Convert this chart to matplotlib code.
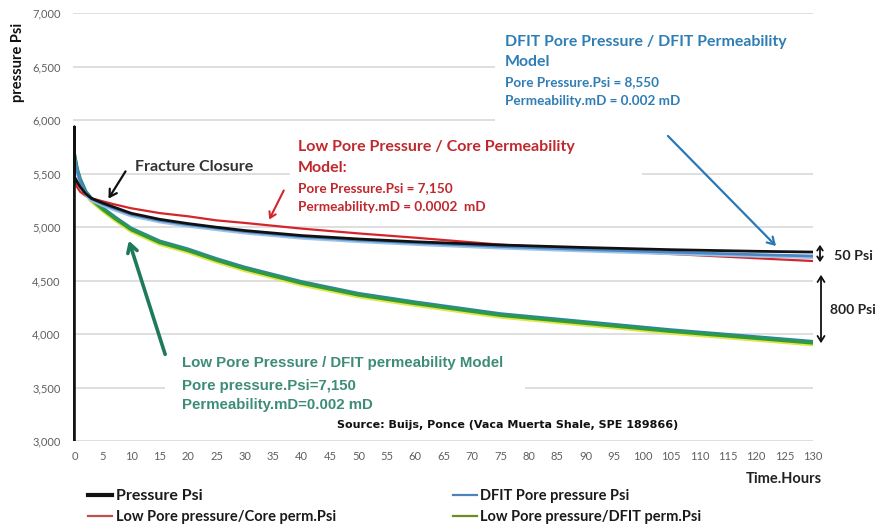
import matplotlib
matplotlib.use('Agg')
import matplotlib.pyplot as plt
from matplotlib.lines import Line2D
from matplotlib.patches import Rectangle
import matplotlib.patheffects as pe
from matplotlib.ticker import FuncFormatter

# ---------------- data ----------------
hours = [0, 0.5, 1, 2, 3, 5, 7, 10, 15, 20, 25, 30, 40, 50, 60, 75, 90, 105, 120, 130]

# measured pressure: vertical jump at t=0 from below the axis, then decline
pressure_time = [0, 0, 0, 0.5, 1, 2, 3, 5, 7, 10, 15, 20, 25, 30, 40, 50, 60, 75, 90, 105, 120, 130]
pressure_psi = [0, 5935, 5470, 5420, 5375, 5310, 5268, 5224, 5185, 5128, 5072, 5032, 4998,
                4967, 4920, 4888, 4862, 4832, 4808, 4788, 4773, 4766]

core_perm_psi = [5440, 5370, 5330, 5290, 5268, 5240, 5212, 5175, 5130, 5100, 5062,
                 5038, 4985, 4940, 4900, 4835, 4790, 4748, 4708, 4682]

dfit_psi = [5650, 5520, 5430, 5315, 5262, 5215, 5175, 5118, 5062, 5022, 4990,
            4958, 4910, 4878, 4852, 4818, 4790, 4765, 4742, 4729]

dfit_perm_psi = [5670, 5530, 5440, 5320, 5255, 5165, 5085, 4975, 4855, 4780, 4690,
                 4610, 4475, 4365, 4285, 4175, 4100, 4025, 3960, 3916]

series_labels = ["Pressure Psi", "Low Pore pressure/Core perm.Psi",
                 "DFIT Pore pressure Psi", "Low Pore pressure/DFIT perm.Psi"]

y_ticks = list(range(3000, 7001, 500))
x_ticks = list(range(0, 131, 5))

# ---------------- figure ----------------
W, H = 883, 527
fig = plt.figure(figsize=(W / 100, H / 100), dpi=100)
L, R, T, B = 73, 813, 13, 441
ax = fig.add_axes([L / W, 1 - B / H, (R - L) / W, (B - T) / H])

def fp(x, y):
    return (x / W, 1 - y / H)

def axf(x0, y0, x1, y1):
    return ((x0 - L) / (R - L), (B - y1) / (B - T), (x1 - x0) / (R - L), (y1 - y0) / (B - T))

FONT = ['Lato', 'DejaVu Sans']
NARROW = ['Liberation Sans', 'DejaVu Sans']

ax.set_xlim(-0.25, 130)
ax.set_ylim(3000, 7000)
ax.set_xticks(x_ticks)
ax.set_yticks(y_ticks)
ax.yaxis.set_major_formatter(FuncFormatter(lambda v, p: f"{int(v):,}"))
ax.tick_params(length=0, labelsize=8, labelcolor='#5f5f5f')
ax.tick_params(axis='y', pad=9)
ax.tick_params(axis='x', pad=7)
for lab in ax.get_xticklabels() + ax.get_yticklabels():
    lab.set_family(FONT)
for s in ax.spines.values():
    s.set_visible(False)
ax.set_axisbelow(True)
ax.yaxis.grid(True, color='#d9d9d9', lw=1.2)
ax.xaxis.grid(False)

# white masks where text boxes hide the gridlines
for (x0, y0, x1, y1) in [(290, 130, 642, 215), (495, 22, 820, 127), (165, 350, 525, 415)]:
    r = axf(x0, y0, x1, y1)
    ax.add_patch(Rectangle(r[:2], r[2], r[3], transform=ax.transAxes,
                           facecolor='white', edgecolor='none', zorder=1))

# ---------------- series ----------------
c_black, c_red, c_blue, c_green = '#111111', '#d4252b', '#4a86c5', '#2f9a3f'
ax.plot(hours, dfit_perm_psi, color=c_green, lw=2.4, zorder=3, solid_capstyle='round',
        path_effects=[pe.SimpleLineShadow(offset=(0, -1.3), shadow_color='#e2e64a', alpha=1),
                      pe.SimpleLineShadow(offset=(0, 1.0), shadow_color='#2a86a8', alpha=1),
                      pe.Normal()])
ax.plot(hours, core_perm_psi, color=c_red, lw=1.6, zorder=4)
ax.plot(hours, dfit_psi, color=c_blue, lw=2.0, zorder=5,
        path_effects=[pe.SimpleLineShadow(offset=(0, -1.2), shadow_color='#9cc3e6', alpha=1), pe.Normal()])
ax.plot(pressure_time, pressure_psi, color=c_black, lw=2.0, zorder=6)

# legend
handles = [Line2D([], [], color=c_black, lw=3), Line2D([], [], color='#c0504d', lw=1.6),
           Line2D([], [], color='#4f81bd', lw=1.6), Line2D([], [], color='#6b8e23', lw=1.6)]
leg = fig.legend(handles, series_labels, ncol=2, loc='upper left', bbox_to_anchor=fp(88, 489),
                 frameon=False, prop={'family': FONT, 'weight': 'bold', 'size': 10.5},
                 handlelength=1.65, handletextpad=0.25, columnspacing=8.0, labelspacing=0.5,
                 borderaxespad=0, borderpad=0)
for t in leg.get_texts():
    t.set_color('#1a1a1a')
leg.get_texts()[0].set_fontsize(11.5)

# axis labels
fig.text(*fp(18, 62), "pressure Psi", rotation=90, ha='center', va='center',
         fontsize=10.5, fontweight='bold', family=FONT, color='#111111')
fig.text(*fp(822, 479), "Time.Hours", ha='right', va='center',
         fontsize=10.5, fontweight='bold', family=FONT, color='#222222')

# annotations
fig.text(*fp(135, 167), "Fracture Closure", ha='left', va='center', fontsize=11.5,
         fontweight='bold', family=FONT, color='#333333')
ax.annotate('', xy=fp(107, 201), xytext=fp(127, 169), xycoords='figure fraction',
            textcoords='figure fraction',
            arrowprops=dict(arrowstyle='->,head_length=0.5,head_width=0.3', color='#111111', lw=1.6))

red_txt = '#c0282d'
fig.text(*fp(298, 147), "Low Pore Pressure / Core Permeability", ha='left', va='center',
         fontsize=11.5, fontweight='bold', family=FONT, color=red_txt)
fig.text(*fp(298, 168), "Model:", ha='left', va='center',
         fontsize=11.5, fontweight='bold', family=FONT, color=red_txt)
fig.text(*fp(298, 188), "Pore Pressure.Psi = 7,150", ha='left', va='center',
         fontsize=9.8, fontweight='bold', family=FONT, color=red_txt)
fig.text(*fp(298, 207), "Permeability.mD = 0.0002  mD", ha='left', va='center',
         fontsize=9.8, fontweight='bold', family=FONT, color=red_txt)
ax.annotate('', xy=fp(268, 222), xytext=fp(285, 188), xycoords='figure fraction',
            textcoords='figure fraction',
            arrowprops=dict(arrowstyle='->,head_length=0.4,head_width=0.25', color='#d4252b', lw=1.5))

blue_txt = '#2e7db5'
fig.text(*fp(505, 42), "DFIT Pore Pressure / DFIT Permeability", ha='left', va='center',
         fontsize=11.4, fontweight='bold', family=FONT, color=blue_txt)
fig.text(*fp(505, 62), "Model", ha='left', va='center',
         fontsize=11.4, fontweight='bold', family=FONT, color=blue_txt)
fig.text(*fp(505, 82), "Pore Pressure.Psi = 8,550", ha='left', va='center',
         fontsize=9.7, fontweight='bold', family=FONT, color=blue_txt)
fig.text(*fp(505, 101), "Permeability.mD = 0.002 mD", ha='left', va='center',
         fontsize=9.7, fontweight='bold', family=FONT, color=blue_txt)
ax.annotate('', xy=fp(778, 248), xytext=fp(666, 134), xycoords='figure fraction',
            textcoords='figure fraction',
            arrowprops=dict(arrowstyle='->,head_length=0.5,head_width=0.3', color='#2a78b8', lw=1.6))

green_txt = '#3d8c78'
fig.text(*fp(182, 363), "Low Pore Pressure / DFIT permeability Model", ha='left', va='center',
         fontsize=10.8, fontweight='bold', family=NARROW, color=green_txt)
fig.text(*fp(182, 386), "Pore pressure.Psi=7,150", ha='left', va='center',
         fontsize=10.8, fontweight='bold', family=NARROW, color=green_txt)
fig.text(*fp(182, 405), "Permeability.mD=0.002 mD", ha='left', va='center',
         fontsize=10.8, fontweight='bold', family=NARROW, color=green_txt)
ax.annotate('', xy=fp(128, 238), xytext=fp(166, 357), xycoords='figure fraction',
            textcoords='figure fraction',
            arrowprops=dict(arrowstyle='->,head_length=0.6,head_width=0.35', color='#1f7a5c', lw=2.6))

fig.text(*fp(337, 425), "Source: Buijs, Ponce (Vaca Muerta Shale, SPE 189866)", ha='left', va='center',
         fontsize=8, fontweight='bold', family=['DejaVu Sans'], color='#111111')

# right side differences
ax.annotate('', xy=fp(820, 242), xytext=fp(820, 265), xycoords='figure fraction',
            textcoords='figure fraction',
            arrowprops=dict(arrowstyle='<->,head_length=0.3,head_width=0.2', color='#111111', lw=1.3))
ax.annotate('', xy=fp(821, 272), xytext=fp(821, 346), xycoords='figure fraction',
            textcoords='figure fraction',
            arrowprops=dict(arrowstyle='<->,head_length=0.4,head_width=0.25', color='#111111', lw=1.3))
fig.text(*fp(834, 256), "50 Psi", ha='left', va='center', fontsize=10.3, fontweight='bold',
         family=FONT, color='#222222')
fig.text(*fp(830, 310), "800 Psi", ha='left', va='center', fontsize=10, fontweight='bold',
         family=FONT, color='#222222')

fig.savefig('out.png', dpi=100, facecolor='white')
